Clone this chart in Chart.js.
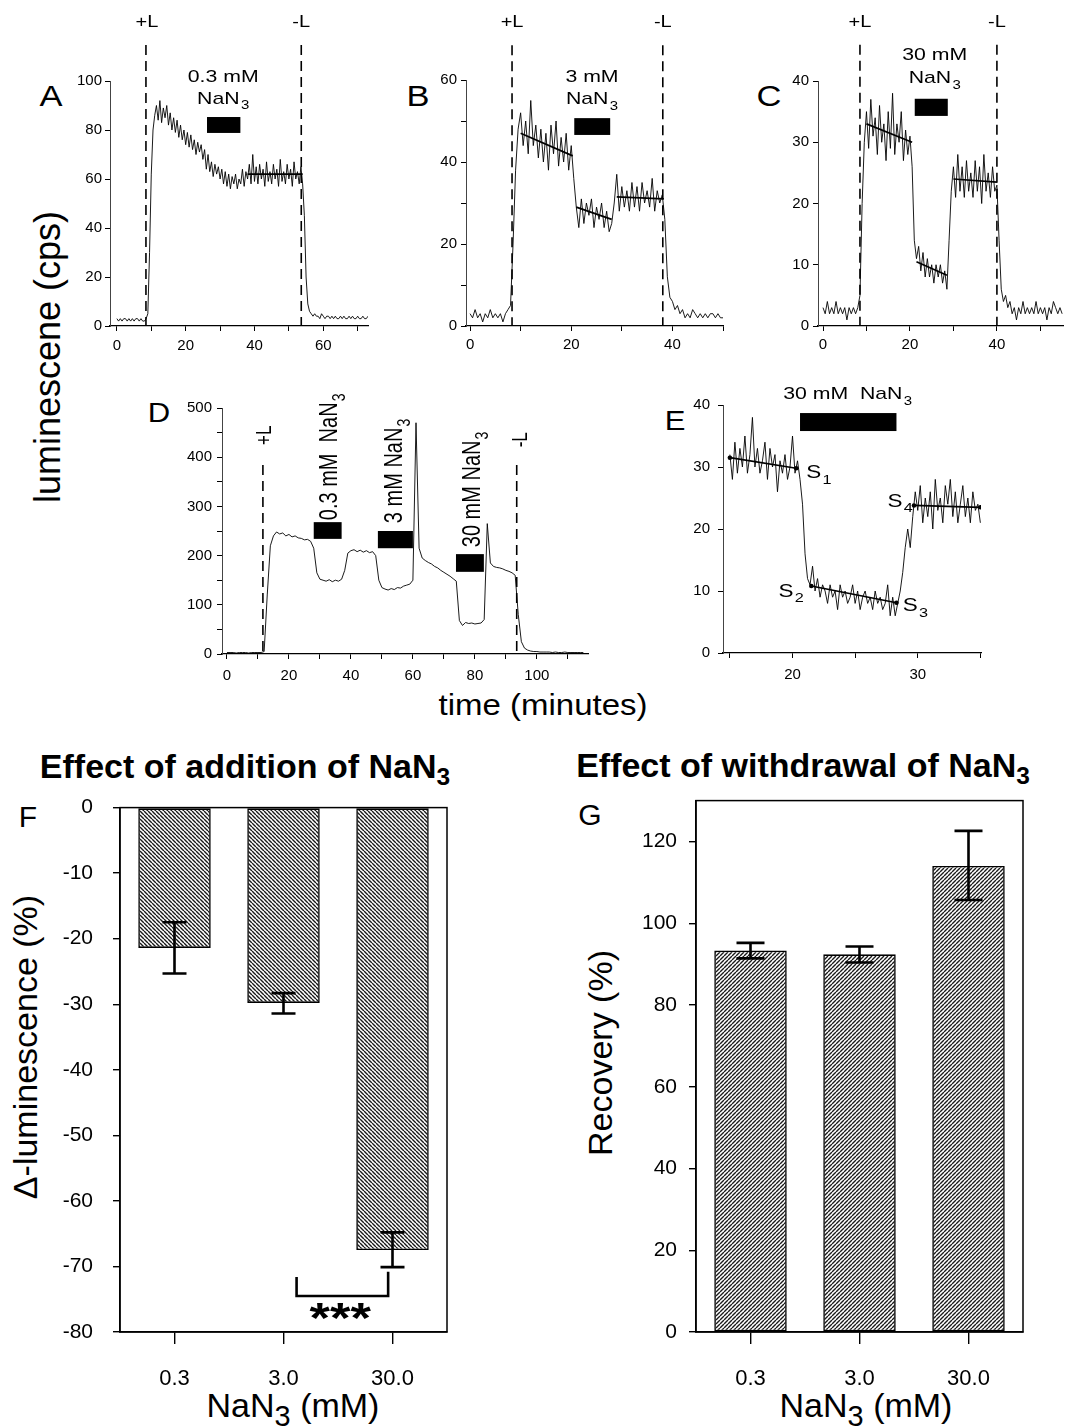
<!DOCTYPE html>
<html>
<head>
<meta charset="utf-8">
<script src="https://cdn.jsdelivr.net/npm/chart.js@4.4.1/dist/chart.umd.min.js"></script>
<style>
html, body { margin: 0; padding: 0; background: #fff; }
#page { position: relative; width: 1065px; height: 1427px; overflow: hidden; font-family: "Liberation Sans", Arial, sans-serif; color: #000; }
#page canvas { position: absolute; }
.t { position: absolute; white-space: nowrap; line-height: 1; }
.t sub { font-size: 0.72em; vertical-align: -0.3em; line-height: 0; }
</style>
</head>
<body>
<div id="page">
  <div class="t" style="left:48px;top:357px;font-size:36px;transform:translate(-50%,-50%) rotate(-90deg)">luminescene (cps)</div>
  <div class="t" style="left:543px;top:705px;font-size:30px;transform:translate(-50%,-50%) scaleX(1.1)">time (minutes)</div>

  <div class="t" style="left:51px;top:96px;font-size:30px;transform:translate(-50%,-50%) scaleX(1.15)">A</div>
  <div class="t" style="left:418px;top:96px;font-size:30px;transform:translate(-50%,-50%) scaleX(1.15)">B</div>
  <div class="t" style="left:769px;top:96px;font-size:30px;transform:translate(-50%,-50%) scaleX(1.15)">C</div>
  <div class="t" style="left:159px;top:413px;font-size:27px;transform:translate(-50%,-50%) scaleX(1.15)">D</div>
  <div class="t" style="left:675px;top:421px;font-size:27px;transform:translate(-50%,-50%) scaleX(1.15)">E</div>
  <div class="t" style="left:28px;top:817px;font-size:30px;transform:translate(-50%,-50%)">F</div>
  <div class="t" style="left:590px;top:815px;font-size:30px;transform:translate(-50%,-50%)">G</div>

  <div class="t" style="left:245px;top:766px;font-size:34px;font-weight:bold;transform:translate(-50%,-50%)">Effect of addition of NaN<sub>3</sub></div>
  <div class="t" style="left:803px;top:765px;font-size:34px;font-weight:bold;transform:translate(-50%,-50%)">Effect of withdrawal of NaN<sub>3</sub></div>

  <div class="t" style="left:25px;top:1047px;font-size:34px;transform:translate(-50%,-50%) rotate(-90deg)">Δ-luminescence (%)</div>
  <div class="t" style="left:600px;top:1053px;font-size:34px;transform:translate(-50%,-50%) rotate(-90deg)">Recovery (%)</div>
  <div class="t" style="left:293px;top:1405px;font-size:34px;transform:translate(-50%,-50%)">NaN<sub style="font-size:0.85em">3</sub> (mM)</div>
  <div class="t" style="left:866px;top:1405px;font-size:34px;transform:translate(-50%,-50%)">NaN<sub style="font-size:0.85em">3</sub> (mM)</div>
</div>

<script>
// ---------- data ----------

// A: 0.3 mM NaN3, luminescence (cps) sampled every 0.5 min from t = 0
const aStart = 0, aStep = 0.5;
const aLum = [
  3, 2, 3, 2, 3, 3, 2, 3, 2, 3,
  2, 3, 3, 2, 3, 2, 2, 3, 5, 30,
  62, 80, 86, 90, 84, 92, 83, 89, 85, 90,
  82, 87, 80, 85, 79, 84, 77, 82, 76, 80,
  74, 79, 73, 78, 72, 76, 70, 75, 71, 74,
  68, 72, 64, 70, 63, 67, 61, 66, 62, 65,
  60, 64, 58, 63, 57, 62, 56, 61, 58, 62,
  56, 60, 58, 64, 57, 63, 60, 66, 58, 70,
  59, 65, 58, 66, 60, 64, 57, 67, 59, 63,
  58, 66, 60, 64, 57, 68, 59, 63, 58, 66,
  60, 64, 57, 67, 60, 63, 58, 65, 58, 45,
  20, 9, 6, 5, 4, 5, 4, 4, 3, 5,
  4, 3, 4, 4, 3, 4, 3, 4, 3, 3,
  4, 3, 4, 3, 3, 4, 3, 4, 3, 3,
  4, 3, 3, 4, 3, 3, 4
];
const aLight = [8.45, 53.6];          // +L, -L (min)
const aAzide = [[26.2, 35.9]];        // NaN3 application (min)
const aFits = [[38, 62, 54, 62]];     // x0, y0, x1, y1
const aXTicks = [0, 10, 20, 30, 40, 50, 60, 70];
const aXLabels = [0, 20, 40, 60];
const aYTicks = [0, 20, 40, 60, 80, 100];

// B: 3 mM NaN3, every 0.5 min
const bStart = 0, bStep = 0.5;
const bLum = [
  3, 2, 4, 2, 3, 1, 3, 2, 4, 2,
  3, 2, 3, 1, 3, 4, 5, 20, 38, 48,
  52, 44, 50, 42, 55, 44, 49, 41, 48, 40,
  47, 38, 49, 42, 50, 39, 46, 40, 47, 38,
  44, 36, 29, 24, 31, 25, 30, 27, 31, 24,
  29, 26, 30, 24, 28, 23, 25, 30, 37, 28,
  34, 29, 33, 28, 35, 29, 34, 28, 35, 30,
  33, 29, 36, 28, 33, 30, 32, 26, 12, 7,
  6, 4, 5, 3, 4, 2, 3, 2, 4, 3,
  2, 3, 2, 3, 2, 3, 3, 2, 3, 2, 2
];
const bLight = [8.3, 38.1];
const bAzide = [[20.6, 27.7]];
const bFits = [[10, 47, 20.3, 41.5], [21, 29, 28, 26], [29, 31.5, 38.3, 31]];
const bXTicks = [0, 10, 20, 30, 40, 50];
const bXLabels = [0, 20, 40];
const bYTicks = [0, 10, 20, 30, 40, 50, 60];
const bYLabels = [0, 20, 40, 60];

// C: 30 mM NaN3, every 0.5 min
const cStart = 0, cStep = 0.5;
const cLum = [
  3, 2, 4, 2, 3, 2, 4, 2, 3, 2,
  3, 1, 3, 2, 3, 2, 3, 5, 20, 30,
  35, 29, 37, 31, 34, 28, 36, 30, 33, 27,
  35, 29, 38, 28, 33, 30, 35, 27, 32, 28,
  31, 26, 14, 11, 13, 9, 12, 8, 11, 8,
  10, 7, 10, 8, 10, 7, 9, 6, 14, 22,
  26, 21, 28, 22, 26, 21, 27, 22, 25, 21,
  27, 22, 26, 20, 28, 22, 25, 21, 26, 22,
  23, 14, 6, 4, 5, 3, 4, 2, 3, 1,
  3, 2, 4, 2, 3, 2, 3, 2, 4, 2,
  3, 2, 3, 1, 3, 2, 4, 3, 2, 3, 2
];
const cLight = [8.5, 40];
const cAzide = [[21.1, 28.7]];
const cFits = [[10, 33, 20.5, 30], [21.5, 10.5, 28.5, 8.3], [30, 24, 40, 23.5]];
const cXTicks = [0, 10, 20, 30, 40, 50];
const cXLabels = [0, 20, 40];
const cYTicks = [0, 10, 20, 30, 40];

// D: 0.3, 3 and 30 mM in one run, every 1 min
const dStart = 0, dStep = 1;
const dLum = [
  3, 3, 3, 2, 3, 3, 3, 2, 3, 3,
  3, 3, 5, 120, 220, 240, 248, 244, 246, 240,
  243, 238, 240, 236, 235, 232, 233, 229, 215, 165,
  152, 150, 148, 151, 147, 150, 148, 152, 170, 205,
  210, 212, 208, 211, 207, 210, 206, 208, 200, 150,
  135, 132, 130, 133, 131, 135, 134, 138, 140, 142,
  150, 470, 215, 195, 190, 186, 183, 178, 175, 170,
  166, 162, 158, 153, 148, 68, 58, 64, 62, 63,
  61, 62, 63, 70, 265, 185, 178, 176, 175, 173,
  170, 168, 165, 160, 80, 25, 12, 8, 6, 5,
  5, 4, 4, 4, 4, 3, 4, 3, 3, 4,
  3, 3, 3, 3, 3, 3
];
const dLight = [11.6, 93.5];
const dAzide = [[28, 37], [48.7, 60], [73.9, 82.9]];
const dXTicks = [0, 10, 20, 30, 40, 50, 60, 70, 80, 90, 100, 110];
const dXLabels = [0, 20, 40, 60, 80, 100];
const dYTicks = [0, 50, 100, 150, 200, 250, 300, 350, 400, 450, 500];
const dYLabels = [0, 100, 200, 300, 400, 500];

// E: detail of C, every 0.2 min from t = 15
const eStart = 15, eStep = 0.2;
const eLum = [
  32, 28, 34, 29, 33, 30, 35, 29, 32, 38,
  30, 33, 29, 31, 34, 28, 33, 30, 32, 26,
  31, 29, 32, 28, 30, 35, 29, 31, 28, 24,
  16, 12, 11, 14, 10, 12, 9, 11, 10, 8,
  11, 9, 10, 7, 11, 9, 10, 8, 9, 11,
  8, 10, 7, 9, 10, 8, 9, 7, 10, 8,
  9, 7, 8, 11, 6, 9, 6, 8, 10, 13,
  17, 20, 17, 22, 26, 23, 27, 21, 25, 22,
  26, 20, 28, 23, 25, 21, 27, 24, 28, 22,
  26, 21, 24, 27, 22, 25, 21, 26, 23, 24,
  21
];
const eAzide = [[20.6, 28.3]];
const eFits = [[15, 31.5, 20.3, 29.8], [21.5, 10.8, 28.3, 8.1], [29.7, 23.8, 35, 23.5]];
const eXTicks = [15, 20, 25, 30, 35];
const eXLabels = [20, 30];
const eYTicks = [0, 10, 20, 30, 40];

// F, G: mean and error bar ends per dose
const doses = ['0.3', '3.0', '30.0'];
const addMean = [-21.4, -29.8, -67.5];
const addLow = [-25.3, -31.4, -70.1];
const addHigh = [-17.5, -28.3, -64.8];
const addTicks = [0, -10, -20, -30, -40, -50, -60, -70, -80];
const recMean = [93.3, 92.4, 114.0];
const recLow = [91.4, 90.4, 105.7];
const recHigh = [95.2, 94.3, 122.6];
const recTicks = [0, 20, 40, 60, 80, 100, 120];

// ---------- drawing ----------
const FONT = '"Liberation Sans", Arial, sans-serif';
const STRETCH = 1.25;
const page = document.getElementById('page');

function mountCanvas(area, m) {
    const c = document.createElement('canvas');
    const w = Math.round(area.r - area.l + m.l + m.r);
    const h = Math.round(area.b - area.t + m.t + m.b);
    c.width = w;
    c.height = h;
    c.style.left = `${area.l - m.l}px`;
    c.style.top = `${area.t - m.t}px`;
    c.style.width = `${w}px`;
    c.style.height = `${h}px`;
    page.appendChild(c);
    return c;
}

function toPoints(values, start, step) {
    return values.map((y, i) => ({ x: start + i * step, y }));
}

function drawLabel(ctx, px, py, t) {
    const size = t.size || 19;
    const main = `${t.bold ? 'bold ' : ''}${size}px ${FONT}`;
    const subFont = `${Math.round(size * 0.72)}px ${FONT}`;
    ctx.save();
    ctx.translate(px, py);
    if (t.rotate) {
        ctx.rotate(-Math.PI / 2);
        ctx.scale(1, STRETCH);
    } else {
        ctx.scale(STRETCH, 1);
    }
    ctx.fillStyle = '#000';
    ctx.textBaseline = 'middle';
    ctx.textAlign = 'left';
    ctx.font = main;
    const w1 = ctx.measureText(t.text).width;
    let w2 = 0;
    if (t.sub) {
        ctx.font = subFont;
        w2 = ctx.measureText(t.sub).width + 1;
    }
    const total = w1 + w2;
    const x0 = t.align === 'left' ? 0 : t.align === 'right' ? -total : -total / 2;
    ctx.font = main;
    ctx.fillText(t.text, x0, 0);
    if (t.sub) {
        ctx.font = subFont;
        ctx.fillText(t.sub, x0 + w1 + 1, size * 0.4);
    }
    ctx.restore();
}

// dashed light on/off lines, NaN3 blocks, error bars, brackets and text labels
const decor = {
    id: 'decor',
    afterDatasetsDraw(chart, args, opts) {
        const { ctx } = chart;
        const x = chart.scales.x;
        const y = chart.scales.y;
        ctx.save();
        (opts.dashes || []).forEach(d => {
            const px = x.getPixelForValue(d.x);
            ctx.setLineDash([10, 6]);
            ctx.lineWidth = 1.6;
            ctx.strokeStyle = '#000';
            ctx.beginPath();
            ctx.moveTo(px, y.getPixelForValue(d.y0));
            ctx.lineTo(px, y.getPixelForValue(d.y1));
            ctx.stroke();
        });
        ctx.setLineDash([]);
        (opts.blocks || []).forEach(b => {
            const x0 = x.getPixelForValue(b.x0);
            const x1 = x.getPixelForValue(b.x1);
            const y0 = y.getPixelForValue(b.y0);
            const y1 = y.getPixelForValue(b.y1);
            ctx.fillStyle = '#000';
            ctx.fillRect(x0, y1, x1 - x0, y0 - y1);
        });
        if (opts.frame) {
            const a = chart.chartArea;
            ctx.lineWidth = 1.5;
            ctx.strokeStyle = '#000';
            ctx.strokeRect(a.left, a.top, a.right - a.left, a.bottom - a.top);
        }
        if (opts.errors) {
            const meta = chart.getDatasetMeta(0);
            const cap = opts.errors.cap;
            ctx.lineWidth = 2.6;
            ctx.strokeStyle = '#000';
            opts.errors.low.forEach((lo, i) => {
                const px = meta.data[i].x;
                const ylo = y.getPixelForValue(lo);
                const yhi = y.getPixelForValue(opts.errors.high[i]);
                ctx.beginPath();
                ctx.moveTo(px, ylo); ctx.lineTo(px, yhi);
                ctx.moveTo(px - cap, ylo); ctx.lineTo(px + cap, ylo);
                ctx.moveTo(px - cap, yhi); ctx.lineTo(px + cap, yhi);
                ctx.stroke();
            });
        }
        (opts.brackets || []).forEach(b => {
            ctx.lineWidth = 2.6;
            ctx.strokeStyle = '#000';
            ctx.beginPath();
            ctx.moveTo(x.getPixelForValue(b.x0), y.getPixelForValue(b.y0));
            ctx.lineTo(x.getPixelForValue(b.x0), y.getPixelForValue(b.yb));
            ctx.lineTo(x.getPixelForValue(b.x1), y.getPixelForValue(b.yb));
            ctx.lineTo(x.getPixelForValue(b.x1), y.getPixelForValue(b.y1));
            ctx.stroke();
        });
        (opts.texts || []).forEach(t => drawLabel(ctx, x.getPixelForValue(t.x), y.getPixelForValue(t.y), t));
        ctx.restore();
    },
};

function tickAxis(p, axis) {
    const isX = axis === 'x';
    const values = isX ? p.xTicks : p.yTicks;
    const labels = isX ? (p.xLabels || p.xTicks) : (p.yLabels || p.yTicks);
    return {
        type: 'linear',
        min: isX ? p.xMin : p.yMin,
        max: isX ? p.xMax : p.yMax,
        afterFit(scale) {
            if (isX) scale.height = p.margin.b;
            else scale.width = p.margin.l;
        },
        afterBuildTicks(scale) {
            scale.ticks = values.map(v => ({ value: v }));
        },
        ticks: {
            autoSkip: false,
            maxRotation: 0,
            color: '#000',
            padding: isX ? p.xPad : p.yPad,
            font: { family: FONT, size: p.tickSize || 15 },
            callback: v => (labels.includes(v) ? String(v) : ''),
        },
        grid: { drawOnChartArea: false, drawTicks: true, tickLength: 5, color: '#000', lineWidth: 1 },
        border: { display: true, color: isX ? '#000' : '#444', width: isX ? 1.3 : 1 },
    };
}

function tracePanel(p) {
    const canvas = mountCanvas(p.area, p.margin);
    const datasets = [];
    p.fits.forEach(f => datasets.push({
        data: [{ x: f[0], y: f[1] }, { x: f[2], y: f[3] }],
        borderColor: '#000',
        borderWidth: 1.7,
        pointRadius: p.fitDots ? 2.3 : 0,
        pointBackgroundColor: '#000',
        pointBorderWidth: 0,
    }));
    datasets.push({
        data: toPoints(p.lum, p.start, p.step),
        borderColor: '#000',
        borderWidth: 0.9,
        pointRadius: 0,
        tension: 0,
    });
    return new Chart(canvas, {
        type: 'line',
        data: { datasets },
        options: {
            responsive: false,
            animation: false,
            devicePixelRatio: 1,
            layout: { padding: { top: p.margin.t, right: p.margin.r, left: 0, bottom: 0 } },
            plugins: {
                legend: { display: false },
                tooltip: { enabled: false },
                decor: p.decor,
            },
            scales: { x: tickAxis(p, 'x'), y: tickAxis(p, 'y') },
        },
        plugins: [decor],
    });
}

function lightDashes(light, top) {
    return light.map(v => ({ x: v, y0: top, y1: 0 }));
}

function azideBlocks(azide, y0, y1) {
    return azide.map(a => ({ x0: a[0], x1: a[1], y0, y1 }));
}

// A
tracePanel({
    area: { l: 110, t: 81, r: 368, b: 326 },
    margin: { l: 100, t: 81, r: 6, b: 40 },
    lum: aLum, start: aStart, step: aStep, fits: aFits,
    xMin: -2, xMax: 73, yMin: 0, yMax: 100,
    xTicks: aXTicks, xLabels: aXLabels, yTicks: aYTicks,
    xPad: 6, yPad: 3,
    decor: {
        dashes: lightDashes(aLight, 114.7),
        blocks: azideBlocks(aAzide, 78.8, 85.3),
        texts: [
            { x: aLight[0] + 0.3, y: 124, text: '+L', size: 16 },
            { x: aLight[1], y: 124, text: '-L', size: 16 },
            { x: 30.9, y: 101.6, text: '0.3 mM', size: 17 },
            { x: 30.9, y: 92.6, text: 'NaN', sub: '3', size: 17 },
        ],
    },
});

// B
tracePanel({
    area: { l: 466, t: 80, r: 723, b: 326 },
    margin: { l: 60, t: 80, r: 6, b: 40 },
    lum: bLum, start: bStart, step: bStep, fits: bFits,
    xMin: -0.8, xMax: 50, yMin: 0, yMax: 60,
    xTicks: bXTicks, xLabels: bXLabels, yTicks: bYTicks, yLabels: bYLabels,
    xPad: 5, yPad: 4,
    decor: {
        dashes: lightDashes(bLight, 68.5),
        blocks: azideBlocks(bAzide, 46.6, 50.7),
        texts: [
            { x: bLight[0], y: 74.1, text: '+L', size: 16 },
            { x: bLight[1], y: 74.1, text: '-L', size: 16 },
            { x: 24.1, y: 60.7, text: '3 mM', size: 17 },
            { x: 24.1, y: 55.2, text: 'NaN', sub: '3', size: 17 },
        ],
    },
});

// C
tracePanel({
    area: { l: 818, t: 81, r: 1063, b: 326 },
    margin: { l: 60, t: 81, r: 2, b: 40 },
    lum: cLum, start: cStart, step: cStep, fits: cFits,
    xMin: -1.15, xMax: 55.2, yMin: 0, yMax: 40,
    xTicks: cXTicks, xLabels: cXLabels, yTicks: cYTicks,
    xPad: 5, yPad: 4,
    decor: {
        dashes: lightDashes(cLight, 45.9),
        blocks: azideBlocks(cAzide, 34.3, 37.1),
        texts: [
            { x: cLight[0], y: 49.6, text: '+L', size: 16 },
            { x: cLight[1], y: 49.6, text: '-L', size: 16 },
            { x: 25.7, y: 44.2, text: '30 mM', size: 17 },
            { x: 25.7, y: 40.4, text: 'NaN', sub: '3', size: 17 },
        ],
    },
});

// D
tracePanel({
    area: { l: 222, t: 408, r: 588, b: 654 },
    margin: { l: 60, t: 58, r: 6, b: 40 },
    lum: dLum, start: dStart, step: dStep, fits: [],
    xMin: -1.6, xMax: 116.5, yMin: 0, yMax: 500,
    xTicks: dXTicks, xLabels: dXLabels, yTicks: dYTicks, yLabels: dYLabels,
    xPad: 8, yPad: 5,
    decor: {
        dashes: lightDashes(dLight, 384),
        blocks: [
            ...azideBlocks([dAzide[0]], 234, 268),
            ...azideBlocks([dAzide[1]], 215, 250),
            ...azideBlocks([dAzide[2]], 167, 203),
        ],
        texts: [
            { x: 12.3, y: 425, text: '+L', size: 17, rotate: true, align: 'left' },
            { x: 95, y: 420, text: '-L', size: 17, rotate: true, align: 'left' },
            { x: 33.2, y: 272, text: '0.3 mM  NaN', sub: '3', size: 20, rotate: true, align: 'left' },
            { x: 54.2, y: 266, text: '3 mM NaN', sub: '3', size: 20, rotate: true, align: 'left' },
            { x: 79.4, y: 217, text: '30 mM NaN', sub: '3', size: 20, rotate: true, align: 'left' },
        ],
    },
});

// E
tracePanel({
    area: { l: 723, t: 405, r: 981, b: 653 },
    margin: { l: 60, t: 35, r: 20, b: 40 },
    lum: eLum, start: eStart, step: eStep, fits: eFits, fitDots: true,
    xMin: 14.45, xMax: 35.05, yMin: 0, yMax: 40,
    xTicks: eXTicks, xLabels: eXLabels, yTicks: eYTicks,
    xPad: 8, yPad: 8,
    decor: {
        blocks: azideBlocks(eAzide, 35.8, 38.7),
        texts: [
            { x: 24.4, y: 41.7, text: '30 mM  NaN', sub: '3', size: 17 },
            { x: 21.1, y: 29, text: 'S', sub: '1', size: 18, align: 'left' },
            { x: 20.9, y: 9.9, text: 'S', sub: '2', size: 18, align: 'right' },
            { x: 28.8, y: 7.5, text: 'S', sub: '3', size: 18, align: 'left' },
            { x: 29.6, y: 24.4, text: 'S', sub: '4', size: 18, align: 'right' },
        ],
    },
});

// hatched fill for the summary bars
function hatch(dir) {
    const s = 4;
    const c = document.createElement('canvas');
    c.width = s;
    c.height = s;
    const g = c.getContext('2d');
    g.fillStyle = '#fff';
    g.fillRect(0, 0, s, s);
    g.strokeStyle = '#1a1a1a';
    g.lineWidth = 1.4;
    g.beginPath();
    for (let k = -s; k <= 2 * s; k += s) {
        if (dir === 'down') { g.moveTo(0, k); g.lineTo(s, k + s); }
        else { g.moveTo(0, k); g.lineTo(s, k - s); }
    }
    g.stroke();
    return g.createPattern(c, 'repeat');
}

function barPanel(p) {
    const canvas = mountCanvas(p.area, p.margin);
    return new Chart(canvas, {
        type: 'bar',
        data: {
            labels: doses,
            datasets: [{
                data: p.mean,
                backgroundColor: hatch(p.hatch),
                borderColor: '#000',
                borderWidth: 1.6,
                borderSkipped: false,
                barPercentage: 0.665,
                categoryPercentage: 1,
            }],
        },
        options: {
            responsive: false,
            animation: false,
            devicePixelRatio: 1,
            layout: { padding: { top: p.margin.t, right: p.margin.r, left: 0, bottom: 0 } },
            plugins: {
                legend: { display: false },
                tooltip: { enabled: false },
                decor: p.decor,
            },
            scales: {
                x: {
                    type: 'category',
                    afterFit(scale) { scale.height = p.margin.b; },
                    ticks: { color: '#000', padding: 22, font: { family: FONT, size: 22 } },
                    grid: { offset: false, drawOnChartArea: false, tickLength: 12, color: '#000', lineWidth: 1.4 },
                    border: { display: true, color: '#000', width: 1.5 },
                },
                y: {
                    type: 'linear',
                    min: p.yMin,
                    max: p.yMax,
                    afterFit(scale) { scale.width = p.margin.l; },
                    afterBuildTicks(scale) { scale.ticks = p.yTicks.map(v => ({ value: v })); },
                    ticks: { color: '#000', padding: p.yPad, font: { family: FONT, size: 21 } },
                    grid: { drawOnChartArea: false, tickLength: 7, color: '#000', lineWidth: 1.4 },
                    border: { display: true, color: '#000', width: 1.5 },
                },
            },
        },
        plugins: [decor],
    });
}

// F
barPanel({
    area: { l: 120, t: 795, r: 447, b: 1332 },
    margin: { l: 100, t: 20, r: 10, b: 62 },
    mean: addMean, hatch: 'down',
    yMin: -80, yMax: 0, yTicks: addTicks, yPad: 20,
    decor: {
        frame: true,
        errors: { low: addLow, high: addHigh, cap: 12 },
        brackets: [{ x0: 1.12, x1: 1.96, y0: -71.6, yb: -74.5, y1: -70.8 }],
        texts: [{ x: 1.52, y: -78.3, text: '***', size: 42, bold: true }],
    },
});

// G
barPanel({
    area: { l: 696, t: 796, r: 1023, b: 1332 },
    margin: { l: 100, t: 20, r: 10, b: 62 },
    mean: recMean, hatch: 'up',
    yMin: 0, yMax: 130, yTicks: recTicks, yPad: 12,
    decor: {
        frame: true,
        errors: { low: recLow, high: recHigh, cap: 14 },
    },
});
</script>
</body>
</html>
